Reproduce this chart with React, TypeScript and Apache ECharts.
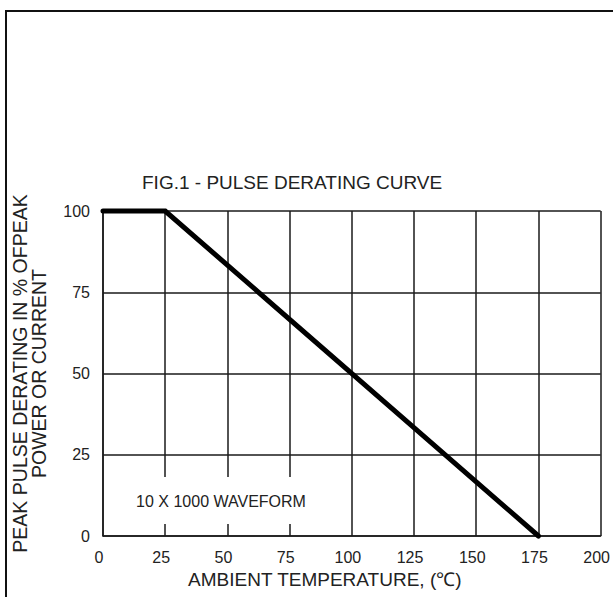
import React, { useEffect, useRef } from "react";
import * as echarts from "echarts";

const temperatures = [0, 25, 175];
const deratingPercent = [100, 100, 0];
const xTicks = { min: 0, max: 200, step: 25 };
const yTicks = { min: 0, max: 100, step: 25 };
const titleText = "FIG.1 - PULSE DERATING CURVE";
const xName = "AMBIENT TEMPERATURE, (℃)";
const yName = "PEAK PULSE DERATING IN % OFPEAK\nPOWER OR CURRENT";
const noteText = "10 X 1000 WAVEFORM";

const FONT = "'Liberation Sans', Arial, sans-serif";
const INK = "#1a1a1a";

export default function App() {
  const ref = useRef<HTMLDivElement>(null);
  useEffect(() => {
    document.body.style.margin = "0";
    const chart = echarts.init(ref.current!, null, { renderer: "svg" });
    const lineData = temperatures.map((t, i) => [t, deratingPercent[i]]);
    chart.setOption({
      animation: false,
      backgroundColor: "#ffffff",
      textStyle: { fontFamily: FONT },
      title: {
        text: titleText,
        left: 142,
        top: 173,
        padding: 0,
        textStyle: { fontSize: 19, fontWeight: "normal", color: "#222", fontFamily: FONT },
      },
      grid: { left: 103, right: 12, top: 211, bottom: 61, containLabel: false },
      xAxis: {
        type: "value",
        min: xTicks.min,
        max: xTicks.max,
        interval: xTicks.step,
        axisLine: { show: true, lineStyle: { color: INK, width: 1.5 } },
        axisTick: { show: false },
        splitLine: { show: true, lineStyle: { color: INK, width: 1.5 } },
        axisLabel: { color: "#222", fontSize: 16, margin: 13, fontFamily: FONT, padding: [0, 8, 0, 0] },
        name: xName,
        nameLocation: "middle",
        nameGap: 34,
        nameTextStyle: { fontSize: 19, color: "#222", fontFamily: FONT, padding: [0, 54, 0, 0] },
      },
      yAxis: {
        type: "value",
        min: yTicks.min,
        max: yTicks.max,
        interval: yTicks.step,
        axisLine: { show: true, lineStyle: { color: INK, width: 1.5 } },
        axisTick: { show: false },
        splitLine: { show: true, lineStyle: { color: INK, width: 1.5 } },
        axisLabel: { color: "#222", fontSize: 16, margin: 13, fontFamily: FONT },
        name: yName,
        nameLocation: "middle",
        nameRotate: 90,
        nameGap: 55,
        nameTextStyle: { fontSize: 19.5, lineHeight: 19, color: "#222", fontFamily: FONT, align: "center" },
      },
      series: [
        {
          type: "line",
          data: lineData,
          showSymbol: false,
          symbol: "none",
          clip: false,
          lineStyle: { color: "#000", width: 5, cap: "round", join: "miter" },
          z: 5,
        },
      ],
      graphic: [
        { type: "line", shape: { x1: 6, y1: 11, x2: 613, y2: 11 }, style: { stroke: "#111", lineWidth: 2 } },
        { type: "line", shape: { x1: 6, y1: 10, x2: 6, y2: 597 }, style: { stroke: "#111", lineWidth: 2 } },
        {
          type: "rect",
          shape: { x: 120, y: 477, width: 198, height: 47 },
          style: { fill: "#ffffff" },
          z: 10,
        },
        {
          type: "text",
          x: 221,
          y: 501,
          style: {
            text: noteText,
            fontSize: 16,
            fontFamily: FONT,
            fill: "#222",
            align: "center",
            verticalAlign: "middle",
          },
          z: 11,
        },
      ],
    });
    return () => chart.dispose();
  }, []);
  return (
    <div
      ref={ref}
      style={{ position: "fixed", left: 0, top: 0, width: 613, height: 597, background: "#fff" }}
    />
  );
}
